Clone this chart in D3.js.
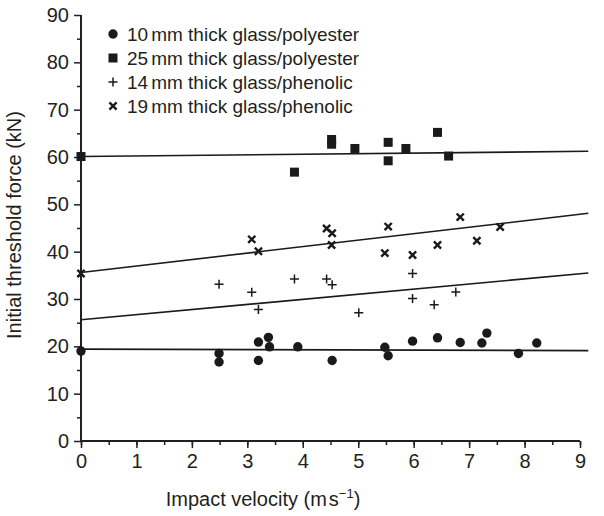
<!DOCTYPE html>
<html>
<head>
<meta charset="utf-8">
<script src="https://cdn.jsdelivr.net/npm/d3@7"></script>
<style>
  body { margin: 0; background: #fff; }
  text { font-family: "Liberation Sans", Arial, sans-serif; fill: #231f20; }
</style>
</head>
<body>
<div id="chart"></div>
<script>
// values
const seriesNames = ['10mm thick glass/polyester', '25mm thick glass/polyester',
                     '14mm thick glass/phenolic', '19mm thick glass/phenolic'];

const polyester10X = [0, 2.49, 2.49, 3.2, 3.2, 3.38, 3.4, 3.91, 4.53, 5.48, 5.54, 5.98, 6.43, 6.84, 7.23, 7.32, 7.89, 8.22];
const polyester10Y = [19.0, 18.5, 16.7, 20.9, 17.0, 21.9, 19.9, 19.9, 17.0, 19.8, 18.0, 21.1, 21.8, 20.8, 20.7, 22.8, 18.5, 20.7];

const polyester25X = [0, 3.85, 4.52, 4.52, 4.94, 5.54, 5.54, 5.86, 6.43, 6.63];
const polyester25Y = [60.1, 56.8, 63.7, 62.7, 61.8, 63.1, 59.2, 61.8, 65.2, 60.2];

const phenolic14X = [2.49, 3.08, 3.2, 3.85, 4.43, 4.53, 5.01, 5.98, 5.98, 6.37, 6.76];
const phenolic14Y = [33.1, 31.4, 27.8, 34.2, 34.2, 33.0, 27.1, 35.4, 30.1, 28.8, 31.5];

const phenolic19X = [0, 3.08, 3.2, 4.43, 4.53, 4.52, 5.48, 5.54, 5.98, 6.43, 6.84, 7.14, 7.56];
const phenolic19Y = [35.4, 42.6, 40.1, 44.9, 43.9, 41.4, 39.7, 45.3, 39.3, 41.4, 47.3, 42.3, 45.2];

// fitted lines: value at x = 0 and at the right end
const fitX = [0, 9.15];
const fitStart = [19.4, 60.1, 25.6, 35.6];
const fitEnd = [19.1, 61.2, 35.5, 48.1];

const xTicks = [0, 1, 2, 3, 4, 5, 6, 7, 8, 9];
const yTicks = [0, 10, 20, 30, 40, 50, 60, 70, 80, 90];

const width = 604, height = 516;
const svg = d3.select('#chart').append('svg')
    .attr('width', width)
    .attr('height', height);

const x = d3.scaleLinear().domain([0, 9]).range([81, 580]);
const y = d3.scaleLinear().domain([0, 90]).range([441, 15]);

// axes
const xAxis = svg.append('g').attr('transform', 'translate(0,' + y(0) + ')');
xAxis.append('g')
    .call(d3.axisBottom(x).tickValues(d3.range(0, 9.01, 0.5)).tickSize(4).tickFormat(''))
    .call(g => g.select('.domain').remove());
xAxis.append('g')
    .call(d3.axisBottom(x).tickValues(xTicks).tickSize(7).tickPadding(6).tickFormat(d3.format('d')))
    .call(g => g.select('.domain').remove())
    .selectAll('text').style('font-size', '20px');
xAxis.selectAll('line').attr('stroke', '#231f20').attr('stroke-width', 1.5);

const yAxis = svg.append('g').attr('transform', 'translate(' + x(0) + ',0)');
yAxis.append('g')
    .call(d3.axisLeft(y).tickValues(d3.range(5, 90, 10)).tickSize(4).tickFormat(''))
    .call(g => g.select('.domain').remove());
yAxis.append('g')
    .call(d3.axisLeft(y).tickValues(yTicks).tickSize(7).tickPadding(5).tickFormat(d3.format('d')))
    .call(g => g.select('.domain').remove())
    .selectAll('text').style('font-size', '20px');
yAxis.selectAll('line').attr('stroke', '#231f20').attr('stroke-width', 1.5);

svg.append('line')
    .attr('x1', x(0)).attr('x2', x(9)).attr('y1', y(0)).attr('y2', y(0))
    .attr('stroke', '#231f20').attr('stroke-width', 2);
svg.append('line')
    .attr('x1', x(0)).attr('x2', x(0)).attr('y1', y(0) + 1).attr('y2', y(90))
    .attr('stroke', '#231f20').attr('stroke-width', 2);

// axis titles
const xTitle = svg.append('text')
    .attr('x', 263).attr('y', 506)
    .attr('text-anchor', 'middle')
    .style('font-size', '20px');
xTitle.append('tspan').text('Impact velocity (m');
xTitle.append('tspan').attr('dx', 2).text('s');
xTitle.append('tspan').attr('dy', -8).style('font-size', '13px').text('\u22121');
xTitle.append('tspan').attr('dy', 8).text(')');

svg.append('text')
    .attr('transform', 'translate(21,' + 225 + ') rotate(-90)')
    .attr('text-anchor', 'middle')
    .style('font-size', '20px')
    .text('Initial threshold force (kN)');

// fitted lines
const line = d3.line().x(d => x(d[0])).y(d => y(d[1]));
fitStart.forEach(function(s, i) {
    svg.append('path')
        .datum([[fitX[0], s], [fitX[1], fitEnd[i]]])
        .attr('d', line)
        .attr('fill', 'none')
        .attr('stroke', '#1a1a1a')
        .attr('stroke-width', 1.6);
});

// marker drawers
function drawCircle(g, px, py) {
    g.append('circle').attr('cx', px).attr('cy', py).attr('r', 4.7).attr('fill', '#1a1a1a');
}
function drawSquare(g, px, py) {
    g.append('rect').attr('x', px - 4.5).attr('y', py - 4.5)
        .attr('width', 9).attr('height', 9).attr('fill', '#1a1a1a');
}
function drawPlus(g, px, py) {
    g.append('path')
        .attr('d', 'M' + (px - 4.5) + ',' + py + 'H' + (px + 4.5) + 'M' + px + ',' + (py - 4.5) + 'V' + (py + 4.5))
        .attr('stroke', '#1a1a1a').attr('stroke-width', 1.5).attr('fill', 'none');
}
function drawCross(g, px, py) {
    const r = 3.6;
    g.append('path')
        .attr('d', 'M' + (px - r) + ',' + (py - r) + 'L' + (px + r) + ',' + (py + r) +
                   'M' + (px - r) + ',' + (py + r) + 'L' + (px + r) + ',' + (py - r))
        .attr('stroke', '#1a1a1a').attr('stroke-width', 2.4).attr('fill', 'none');
}

const series = [
    { xs: polyester10X, ys: polyester10Y, draw: drawCircle },
    { xs: polyester25X, ys: polyester25Y, draw: drawSquare },
    { xs: phenolic14X, ys: phenolic14Y, draw: drawPlus },
    { xs: phenolic19X, ys: phenolic19Y, draw: drawCross }
];

const marks = svg.append('g');
series.forEach(function(s) {
    s.xs.forEach(function(v, i) {
        s.draw(marks, x(v), y(s.ys[i]));
    });
});

// legend
const legend = svg.append('g');
seriesNames.forEach(function(name, i) {
    const ly = 34 + i * 24;
    series[i].draw(legend, 113, ly);
    const t = legend.append('text')
        .attr('x', 127).attr('y', ly + 7)
        .style('font-size', '19px');
    const m = name.match(/^(\d+)(mm)(.*)$/);
    t.append('tspan').text(m[1]);
    t.append('tspan').attr('dx', 3).text(m[2] + m[3]);
});
</script>
</body>
</html>
